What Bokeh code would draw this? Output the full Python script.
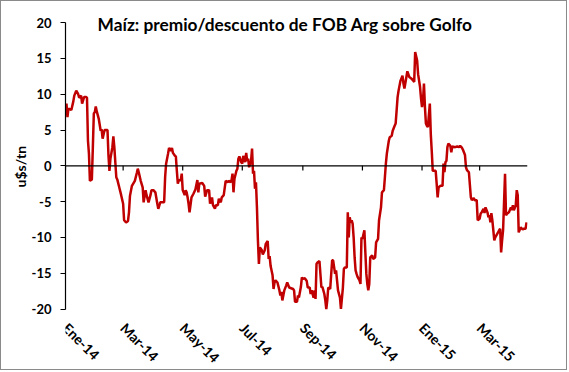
import numpy as np
from math import pi
from bokeh.plotting import figure
from bokeh.models import Range1d, FixedTicker, Span, Label, Title, ColumnDataSource
from bokeh.core.properties import value
from bokeh.embed import file_html
from bokeh.resources import INLINE

# ---------------- data ----------------
start_date = "2014-01-01"
end_date = "2015-04-19"
# days since 2014-01-01
day_offset = [
    1, 2, 3, 6, 8, 9, 11, 13, 14, 16, 17, 19, 21, 22, 23, 24, 25, 27, 28, 29,
    30, 31, 32, 34, 36, 37, 38, 40, 41, 43, 44, 45, 46, 48, 49, 50, 52, 53, 55, 57,
    59, 60, 62, 64, 65, 66, 68, 71, 73, 74, 75, 77, 79, 80, 82, 83, 85, 87, 88, 90,
    92, 94, 95, 97, 99, 101, 102, 103, 105, 106, 108, 109, 110, 112, 113, 114, 115, 116, 118, 119,
    120, 122, 123, 124, 125, 126, 127, 129, 131, 133, 135, 136, 137, 140, 142, 143, 145, 147, 148, 150,
    151, 153, 154, 156, 157, 159, 160, 162, 164, 166, 167, 169, 170, 171, 172, 173, 175, 176, 177, 178,
    180, 181, 182, 184, 185, 186, 187, 188, 190, 191, 192, 193, 194, 195, 196, 197, 198, 199, 201, 202,
    204, 205, 207, 208, 209, 210, 212, 213, 214, 215, 217, 219, 220, 221, 222, 224, 226, 227, 229, 231,
    233, 234, 235, 237, 238, 239, 241, 242, 243, 245, 247, 248, 250, 251, 252, 254, 255, 256, 257, 258,
    260, 262, 263, 265, 266, 267, 268, 269, 271, 273, 274, 276, 277, 279, 281, 282, 284, 285, 286, 288,
    289, 290, 291, 292, 293, 294, 295, 296, 297, 298, 299, 301, 302, 303, 304, 306, 307, 308, 309, 310,
    311, 312, 314, 315, 317, 318, 320, 321, 323, 324, 326, 327, 328, 329, 331, 332, 334, 335, 337, 338,
    339, 340, 341, 343, 345, 346, 347, 349, 350, 352, 354, 356, 357, 358, 360, 361, 363, 364, 365, 366,
    367, 368, 369, 370, 371, 373, 374, 375, 376, 377, 379, 380, 381, 382, 384, 386, 387, 388, 389, 390,
    391, 392, 394, 395, 396, 399, 401, 403, 404, 406, 407, 409, 410, 411, 413, 415, 416, 418, 419, 421,
    422, 424, 425, 426, 428, 429, 430, 432, 433, 434, 435, 436, 437, 439, 440, 442, 444, 445, 446, 447,
    448, 450, 451, 452, 454, 456, 457, 458, 459, 461, 462, 463, 464, 466, 468, 469, 471, 472,
]
premio = [
    8.7, 6.8, 8.0, 7.8, 9.0, 9.8, 10.5, 10.0, 9.5, 9.8, 8.7, 9.6, 9.6, 9.5, 3.5, 1.7, -2.1, -1.9, 2.6, 7.3,
    7.5, 8.3, 7.6, 6.6, 4.9, 5.1, 3.8, 5.0, 5.0, 5.0, 1.4, -0.7, 1.0, 2.6, 4.1, 2.6, -1.6, -1.9, -3.0, -4.1,
    -5.3, -7.6, -7.9, -7.7, -6.5, -4.2, -2.8, -2.1, -1.0, -0.4, -0.9, -2.1, -3.0, -5.1, -3.4, -4.1, -5.1, -4.1, -3.4, -3.4,
    -3.7, -5.3, -6.0, -5.1, -5.1, -5.1, -1.6, 0.3, 1.7, 2.5, 2.1, 2.5, 1.8, 1.4, 1.3, -0.7, -2.5, -2.0, -2.0, -1.1,
    -3.4, -4.1, -3.4, -3.7, -4.4, -5.3, -6.5, -4.4, -3.9, -3.3, -2.0, -3.7, -2.5, -2.4, -2.8, -4.3, -3.4, -3.4, -5.3, -4.4,
    -5.5, -6.0, -5.5, -5.5, -4.6, -5.1, -4.4, -4.1, -2.1, -2.3, -2.1, -2.3, -2.0, -1.1, -3.7, -1.8, -0.7, -0.4, 1.0, 1.3,
    0.5, 0.3, 1.4, 0.5, 1.8, 0.7, 1.0, -0.2, 0.7, 2.4, -1.1, -0.7, -3.2, -2.3, -5.8, -10.4, -13.7, -11.4, -11.8, -12.4,
    -11.8, -10.9, -10.5, -13.0, -12.6, -14.0, -15.3, -17.2, -16.3, -16.0, -16.3, -17.4, -18.1, -17.6, -18.8, -17.4, -16.7, -16.3, -17.0, -17.1,
    -17.2, -17.4, -19.0, -19.0, -18.1, -18.4, -16.9, -15.6, -15.8, -15.7, -16.1, -17.0, -17.0, -17.9, -17.4, -18.4, -17.4, -18.6, -13.7, -13.5,
    -13.3, -17.0, -16.9, -17.9, -18.8, -20.0, -18.8, -17.0, -17.2, -13.2, -13.2, -15.1, -14.6, -17.4, -18.4, -20.0, -17.0, -14.4, -14.2, -14.2,
    -6.5, -10.0, -7.2, -7.9, -7.6, -8.1, -10.0, -12.8, -14.6, -15.1, -15.5, -16.0, -16.5, -10.0, -10.2, -9.0, -12.1, -15.1, -16.5, -17.4,
    -16.5, -12.8, -12.5, -13.0, -12.8, -10.7, -10.2, -7.6, -5.8, -3.7, -3.4, -1.6, 0.3, 1.7, 3.5, 4.0, 4.2, 4.9, 5.6, 5.9,
    7.7, 9.6, 10.5, 11.9, 12.6, 11.5, 10.8, 12.4, 13.2, 12.4, 12.2, 11.9, 11.7, 15.9, 14.7, 12.8, 11.0, 9.4, 8.2, 9.1,
    11.5, 8.2, 5.9, 5.6, 5.4, 8.7, 4.4, 2.0, -0.7, -0.7, -0.7, -2.5, -4.4, -3.0, -2.8, -2.8, 0.3, -0.9, 0.5, 0.7,
    2.6, 3.1, 2.8, 1.9, 2.7, 2.6, 2.7, 2.6, 2.8, 2.5, 2.2, 1.5, -0.2, -0.6, -0.9, -4.4, -4.8, -4.5, -4.8, -4.8,
    -7.6, -7.4, -6.7, -6.5, -6.0, -6.6, -5.8, -6.5, -7.2, -6.9, -7.9, -6.6, -7.6, -10.4, -10.0, -9.5, -9.0, -8.8, -12.1, -10.4,
    -9.0, -1.1, -6.9, -6.7, -6.5, -5.8, -6.2, -5.5, -6.2, -5.5, -3.4, -4.1, -9.3, -8.6, -8.9, -8.8, -8.8, -7.9,
]
tick_dates = ["2014-01-01", "2014-03-01", "2014-05-01", "2014-07-01",
              "2014-09-01", "2014-11-01", "2015-01-01", "2015-03-01"]
tick_labels = ["Ene-14", "Mar-14", "May-14", "Jul-14",
               "Sep-14", "Nov-14", "Ene-15", "Mar-15"]
y_ticks = [-20, -15, -10, -5, 0, 5, 10, 15, 20]
title_text = "Maíz: premio/descuento de FOB Arg sobre Golfo"
y_label = "u$s/tn"

# ---------------- build ----------------
FONT = "Lato"
Y_MIN, Y_MAX = -20, 20
base = np.datetime64(start_date)
dates = base + np.array(day_offset).astype("timedelta64[D]")
src = ColumnDataSource(data=dict(date=dates, v=premio))
tick_dt = [np.datetime64(d) for d in tick_dates]

# frame extends below -20 so that the slanted month labels live inside it
p = figure(width=567, height=370, x_axis_type="datetime",
           output_backend="svg", toolbar_location=None,
           x_range=Range1d(base, np.datetime64(end_date)),
           y_range=Range1d(-28.31, 22.39),
           min_border_left=64, min_border_right=41,
           min_border_top=4, min_border_bottom=3)
p.styles = {"border": "1px solid #8a8a8a"}
p.grid.visible = False
p.outline_line_color = None
p.background_fill_color = "white"
p.border_fill_color = "white"
p.xaxis.visible = False

# zero line and its month tick marks
p.add_layout(Span(location=0, dimension="width", line_color="black", line_width=1.2))
p.segment(x0=tick_dt, y0=0, x1=tick_dt, y1=-0.65,
          line_color="black", line_width=1.2)

p.line(x="date", y="v", source=src, line_color="#C00000", line_width=2.5)

# slanted month labels below the plot
lab_src = ColumnDataSource(data=dict(x=tick_dt, y=[Y_MIN - 2.3] * len(tick_dt), t=tick_labels))
p.text(x="x", y="y", text="t", source=lab_src, angle=-pi / 4,
       text_align="left", text_baseline="middle",
       text_font=value(FONT), text_font_style="bold", text_font_size="14px",
       text_color="black")

# y axis
ya = p.yaxis[0]
ya.ticker = FixedTicker(ticks=y_ticks)
ya.major_label_overrides = {t: str(t) for t in y_ticks}
ya.bounds = (Y_MIN, Y_MAX)
ya.axis_line_color = "black"
ya.axis_line_width = 1.2
ya.major_tick_out = 5
ya.major_tick_in = 0
ya.minor_tick_line_color = None
ya.major_tick_line_color = "black"
ya.major_label_standoff = 9
ya.major_label_text_font = FONT
ya.major_label_text_font_style = "bold"
ya.major_label_text_font_size = "13px"
ya.major_label_text_color = "black"

# y axis title (left panel), shifted up so it centres on the -20..20 span
p.add_layout(Title(text=y_label, align="left", offset=181, standoff=0,
                   text_font=FONT, text_font_style="bold", text_font_size="14px",
                   text_color="black"), "left")

# chart title
p.add_layout(Label(x=219.5, y=344.5, x_units="screen", y_units="screen",
                   text=title_text, text_align="center", text_baseline="alphabetic",
                   text_font=FONT, text_font_style="bold", text_font_size="17.3px",
                   text_color="black"))

open("out.html", "w").write(file_html(p, INLINE))
